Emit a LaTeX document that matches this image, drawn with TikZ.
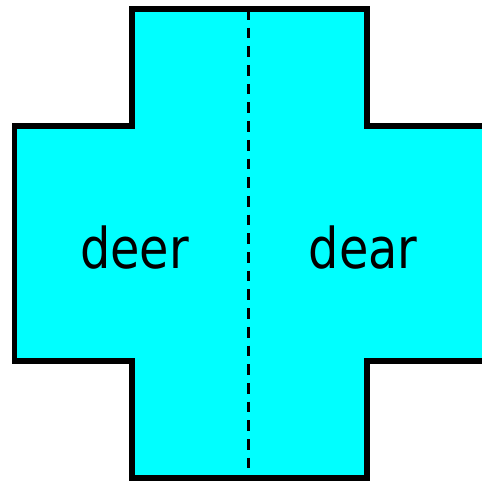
\documentclass[tikz,border=0pt]{standalone}
\usepackage{fontspec}
\setmainfont{DejaVu Sans}[FakeStretch=0.85]
\usetikzlibrary{positioning}
\definecolor{crossfill}{RGB}{0,255,255}

\begin{document}
\begin{tikzpicture}[
  x=0.02cm, y=-0.02cm,
  crossshape/.style={draw=black, fill=crossfill, line width=0.12cm, line join=miter},
  foldline/.style={draw=black, line width=0.06cm, dash pattern=on 0.214cm off 0.16cm},
  word/.style={font=\fontsize{32}{38}\selectfont, anchor=base, inner sep=0pt}
]
\useasboundingbox (0,0) rectangle (481,483);

% The cross, its right arm running past the edge.
\draw[crossshape] (132,9) -- (366.5,9) -- (366.5,126) -- (488,126)
  -- (488,361) -- (366.5,361) -- (366.5,478) -- (132,478) -- (132,361)
  -- (14.5,361) -- (14.5,126) -- (132,126) -- cycle;

\coordinate (foldtop) at (248,9);
\coordinate (foldbot) at (248,478);
\draw[foldline] (foldtop) -- (foldbot);

\node[word] (deer) at (134.5,268) {deer};
\node[word] (dear) at (363,268) {dear};

\end{tikzpicture}
\end{document}
